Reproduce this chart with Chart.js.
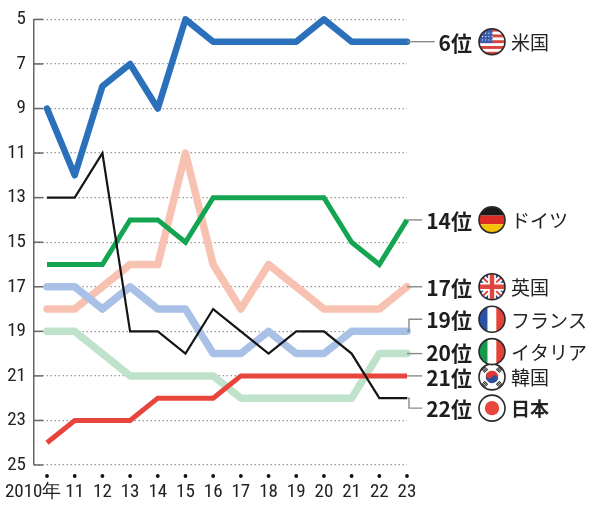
<!DOCTYPE html>
<html><head><meta charset="utf-8">
<script src="https://cdn.jsdelivr.net/npm/chart.js@4.4.1/dist/chart.umd.min.js"></script>
<style>html,body{margin:0;padding:0;background:#fff}#wrap{width:600px;height:507px;position:relative}</style>
</head><body><div id="wrap"><canvas id="c" width="600" height="507"></canvas></div>
<script>
// ---- data ----
const years = [2010,2011,2012,2013,2014,2015,2016,2017,2018,2019,2020,2021,2022,2023];
const usa     = [9,12,8,7,9,5,6,6,6,6,5,6,6,6];
const germany = [16,16,16,14,14,15,13,13,13,13,13,15,16,14];
const uk      = [18,18,17,16,16,11,16,18,16,17,18,18,18,17];
const france  = [17,17,18,17,18,18,20,20,19,20,20,19,19,19];
const italy   = [19,19,20,21,21,21,21,22,22,22,22,22,20,20];
const korea   = [24,23,23,23,22,22,22,21,21,21,21,21,21,21];
const japan   = [13,13,11,19,19,20,18,19,20,19,19,20,22,22];
const yTicks  = [5,7,9,11,13,15,17,19,21,23,25];
const rankLabels   = ['6位','14位','17位','19位','20位','21位','22位'];
const countryNames = ['米国','ドイツ','英国','フランス','イタリア','韓国','日本'];

// ---- styles ----
const series = [
  {data: japan,   color:'#151515', width:2.2, flag:'jp', label:6, dy:10, bold:true},
  {data: usa,     color:'#2a70ba', width:6.5, flag:'us', label:0, dy:0},
  {data: germany, color:'#13a552', width:5,   flag:'de', label:1, dy:0},
  {data: korea,   color:'#e8453c', width:5,   flag:'kr', label:5, dy:1},
  {data: italy,   color:'#bfe2cb', width:7.5, flag:'it', label:4, dy:-2},
  {data: france,  color:'#aac1e7', width:7.5, flag:'fr', label:3, dy:-12},
  {data: uk,      color:'#f8c2b2', width:7.5, flag:'uk', label:2, dy:0},
];
const NARROW = "'Liberation Sans Narrow','Roboto Condensed','Arial Narrow','Liberation Sans',sans-serif";
const JP = "'Noto Sans CJK JP','Noto Sans',sans-serif";

function drawFlag(ctx, kind, cx, cy, r) {
  ctx.save();
  ctx.beginPath(); ctx.arc(cx, cy, r, 0, Math.PI*2); ctx.clip();
  const x0 = cx-r, y0 = cy-r, d = 2*r;
  ctx.fillStyle = '#fff'; ctx.fillRect(x0, y0, d, d);
  if (kind === 'us') {
    for (let k=0;k<9;k++){ if(k%2===0){ctx.fillStyle='#d8423c'; ctx.fillRect(x0, y0+k*d/9, d, d/9);} }
    ctx.fillStyle='#3d5ba8'; ctx.fillRect(x0, y0, d*0.52, d*5/9);
    ctx.fillStyle='#fff';
    for (let i=0;i<4;i++) for (let j=0;j<3;j++){ ctx.fillRect(x0+3+i*3.2, y0+4+j*3.4, 1, 1); }
  } else if (kind === 'de') {
    ctx.fillStyle='#1a1a1a'; ctx.fillRect(x0,y0,d,d/3);
    ctx.fillStyle='#dd2b26'; ctx.fillRect(x0,y0+d/3,d,d/3);
    ctx.fillStyle='#f4c300'; ctx.fillRect(x0,y0+2*d/3,d,d/3+1);
  } else if (kind === 'fr' || kind === 'it') {
    ctx.fillStyle = kind==='fr' ? '#2a52a6' : '#159a4b'; ctx.fillRect(x0,y0,d/3,d);
    ctx.fillStyle='#fff'; ctx.fillRect(x0+d/3,y0,d/3,d);
    ctx.fillStyle='#e4433a'; ctx.fillRect(x0+2*d/3,y0,d/3+1,d);
  } else if (kind === 'uk') {
    ctx.fillStyle='#2d4c96'; ctx.fillRect(x0,y0,d,d);
    ctx.lineCap='butt';
    ctx.strokeStyle='#fff'; ctx.lineWidth=r*0.45;
    ctx.beginPath(); ctx.moveTo(x0,y0); ctx.lineTo(x0+d,y0+d); ctx.moveTo(x0+d,y0); ctx.lineTo(x0,y0+d); ctx.stroke();
    ctx.strokeStyle='#e0463f'; ctx.lineWidth=r*0.15;
    ctx.beginPath(); ctx.moveTo(x0,y0); ctx.lineTo(x0+d,y0+d); ctx.moveTo(x0+d,y0); ctx.lineTo(x0,y0+d); ctx.stroke();
    ctx.strokeStyle='#fff'; ctx.lineWidth=r*0.6;
    ctx.beginPath(); ctx.moveTo(cx,y0); ctx.lineTo(cx,y0+d); ctx.moveTo(x0,cy); ctx.lineTo(x0+d,cy); ctx.stroke();
    ctx.strokeStyle='#e0463f'; ctx.lineWidth=r*0.34;
    ctx.beginPath(); ctx.moveTo(cx,y0); ctx.lineTo(cx,y0+d); ctx.moveTo(x0,cy); ctx.lineTo(x0+d,cy); ctx.stroke();
  } else if (kind === 'kr') {
    ctx.save();
    ctx.translate(cx, cy); ctx.rotate(Math.PI*0.18);
    const R = r*0.48;
    ctx.fillStyle='#df3b34'; ctx.beginPath(); ctx.arc(0,0,R,Math.PI,0); ctx.fill();
    ctx.fillStyle='#2c4f9e'; ctx.beginPath(); ctx.arc(0,0,R,0,Math.PI); ctx.fill();
    ctx.fillStyle='#df3b34'; ctx.beginPath(); ctx.arc(-R/2,0,R/2,0,Math.PI*2); ctx.fill();
    ctx.fillStyle='#2c4f9e'; ctx.beginPath(); ctx.arc(R/2,0,R/2,0,Math.PI*2); ctx.fill();
    ctx.restore();
    ctx.strokeStyle='#333'; ctx.lineWidth=1.1;
    for (const a of [Math.PI/4, 3*Math.PI/4, 5*Math.PI/4, 7*Math.PI/4]) {
      const px = cx + Math.cos(a)*r*0.78, py = cy + Math.sin(a)*r*0.78;
      const tx = -Math.sin(a), ty = Math.cos(a);
      for (let k=-1;k<=1;k++){
        const ox = Math.cos(a)*k*1.6, oy = Math.sin(a)*k*1.6;
        ctx.beginPath(); ctx.moveTo(px+ox-tx*2.6, py+oy-ty*2.6); ctx.lineTo(px+ox+tx*2.6, py+oy+ty*2.6); ctx.stroke();
      }
    }
  } else if (kind === 'jp') {
    ctx.fillStyle='#e8453c'; ctx.beginPath(); ctx.arc(cx,cy,r*0.55,0,Math.PI*2); ctx.fill();
  }
  ctx.restore();
  ctx.save();
  ctx.strokeStyle='#2a2a2a'; ctx.lineWidth=1.6;
  ctx.beginPath(); ctx.arc(cx, cy, r, 0, Math.PI*2); ctx.stroke();
  ctx.restore();
}

const decoPlugin = {
  id: 'deco',
  beforeDatasetsDraw(chart) {
    const {ctx, chartArea, scales:{x, y}} = chart;
    ctx.save();
    ctx.strokeStyle = '#666'; ctx.lineWidth = 1.5;
    for (const t of yTicks) {
      const py = y.getPixelForValue(t);
      ctx.beginPath(); ctx.moveTo(chartArea.left, py); ctx.lineTo(chartArea.left+9, py); ctx.stroke();
    }
    ctx.fillStyle = '#111';
    for (const yr of years) {
      ctx.beginPath(); ctx.arc(x.getPixelForValue(yr), chartArea.bottom+11, 1.9, 0, Math.PI*2); ctx.fill();
    }
    ctx.restore();
  },
  afterDraw(chart) {
    const {ctx, chartArea, scales:{y}} = chart;
    const right = chartArea.right;
    const numRight = 472, flagX = 492, nameX = 511;
    ctx.save();
    for (const s of series) {
      const lineY = y.getPixelForValue(s.data[s.data.length-1]);
      const ly = lineY + s.dy;
      ctx.font = `bold 21px ${JP}`;
      const w = ctx.measureText(rankLabels[s.label]).width;
      const endX = numRight - w - 4;
      ctx.strokeStyle = '#8a8a8a'; ctx.lineWidth = 1.4;
      ctx.beginPath();
      if (Math.abs(s.dy) > 4) {
        ctx.moveTo(right, lineY); ctx.lineTo(right+2, lineY); ctx.lineTo(right+2, ly); ctx.lineTo(endX, ly);
      } else {
        ctx.moveTo(right, lineY); ctx.lineTo(endX, lineY);
      }
      ctx.stroke();
      ctx.fillStyle = '#1e1e1e';
      ctx.textAlign = 'right'; ctx.textBaseline = 'middle';
      ctx.fillText(rankLabels[s.label], numRight, ly+1);
      drawFlag(ctx, s.flag, flagX, ly, 13);
      ctx.font = `${s.bold ? 'bold ' : ''}19px ${JP}`;
      ctx.textAlign = 'left';
      ctx.fillStyle = '#222';
      ctx.fillText(countryNames[s.label], nameX, ly+1);
    }
    ctx.restore();
  }
};

new Chart(document.getElementById('c'), {
  type: 'line',
  data: {
    datasets: series.map(s => ({
      data: s.data.map((v, i) => ({x: years[i], y: v})),
      borderColor: s.color,
      borderWidth: s.width,
      pointRadius: 0,
      tension: 0,
      fill: false,
      clip: false,
      borderJoinStyle: s.width > 5 ? 'round' : 'miter',
      borderCapStyle: s.width > 5 ? 'round' : 'butt',
    }))
  },
  options: {
    responsive: false,
    animation: false,
    events: [],
    layout: {padding: {top: 16, right: 193, left: 0, bottom: 0}},
    plugins: {legend: {display: false}, tooltip: {enabled: false}},
    scales: {
      x: {
        type: 'linear', min: 2009.53, max: 2023,
        afterBuildTicks: s => { s.ticks = years.map(v => ({value: v})); },
        afterFit: s => { s.height = 42; s.paddingLeft = 0; s.paddingRight = 0; },
        grid: {display: false, drawTicks: false},
        border: {display: false},
        ticks: {
          autoSkip: false, maxRotation: 0, padding: 16, color: '#222',
          font: {family: NARROW, size: 19},
          callback: v => v === 2010 ? '2010年\u3000  ' : String(v).slice(2)
        }
      },
      y: {
        reverse: true, min: 5, max: 25,
        afterBuildTicks: s => { s.ticks = yTicks.map(v => ({value: v})); },
        afterFit: s => { s.width = 34; },
        grid: {color: '#9a9a9a', lineWidth: 1.2, drawTicks: false},
        border: {display: true, color: '#666', width: 1.5, dash: [1.5, 2.5]},
        ticks: {padding: 8, color: '#222', font: {family: NARROW, size: 19}}
      }
    }
  },
  plugins: [decoPlugin]
});
</script>
</body></html>
